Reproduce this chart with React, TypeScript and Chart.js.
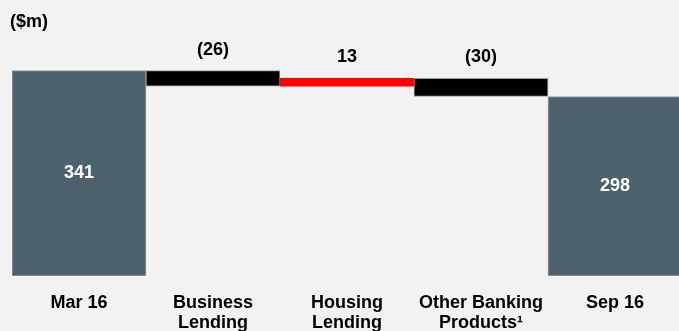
import React, { useEffect, useRef } from "react";
import { Chart, registerables } from "chart.js";

Chart.register(...registerables);

const categories: (string | string[])[] = [
  "Mar 16",
  ["Business", "Lending"],
  ["Housing", "Lending"],
  ["Other Banking", "Products\u00B9"],
  "Sep 16",
];
const startValue = 341;
const changes = [-26, 13, -30];
const endValue = 298;
const valueLabels = ["341", "(26)", "13", "(30)", "298"];
const unitLabel = "($m)";

const FONT = "'Liberation Sans', Arial, sans-serif";

function buildRanges(): [number, number][] {
  const ranges: [number, number][] = [[0, startValue]];
  let level = startValue;
  for (const c of changes) {
    const next = level + c;
    ranges.push([Math.min(level, next), Math.max(level, next)]);
    level = next;
  }
  ranges.push([0, endValue]);
  return ranges;
}

const labelPlugin = {
  id: "waterfallLabels",
  afterDatasetsDraw(chart: any) {
    const ctx = chart.ctx;
    const meta = chart.getDatasetMeta(0);
    const yScale = chart.scales.y;
    const ranges = buildRanges();
    ctx.save();
    ctx.font = `bold 18px ${FONT}`;
    ctx.textAlign = "center";
    ctx.textBaseline = "middle";
    meta.data.forEach((bar: any, i: number) => {
      const [lo, hi] = ranges[i];
      if (i === 0 || i === ranges.length - 1) {
        ctx.fillStyle = "#ffffff";
        ctx.fillText(valueLabels[i], bar.x, (yScale.getPixelForValue(lo) + yScale.getPixelForValue(hi)) / 2);
      } else {
        ctx.fillStyle = "#000000";
        ctx.fillText(valueLabels[i], bar.x, yScale.getPixelForValue(hi) - 21);
      }
    });
    ctx.textAlign = "left";
    ctx.fillStyle = "#000000";
    ctx.fillText(unitLabel, 10, 22);
    ctx.restore();
  },
};

export default function App() {
  const ref = useRef<HTMLCanvasElement>(null);
  useEffect(() => {
    document.documentElement.style.overflow = "hidden";
    document.body.style.margin = "0";
    document.body.style.overflow = "hidden";
    document.body.style.background = "#f2f2f2";
    const slate = "#4d626c";
    const chart = new Chart(ref.current!, {
      type: "bar",
      data: {
        labels: categories,
        datasets: [
          {
            data: buildRanges() as any,
            backgroundColor: [slate, "#000000", "#ff0000", "#000000", slate],
            borderColor: ["#9a9a9a", "#9a9a9a", "#ff0000", "#9a9a9a", "#9a9a9a"],
            borderWidth: [1, 1, 0, 1, 1],
            borderSkipped: false,
            barPercentage: 1,
            categoryPercentage: 1,
          },
        ],
      },
      options: {
        animation: false,
        responsive: false,
        maintainAspectRatio: false,
        layout: { padding: { left: 12, right: 18, top: 35, bottom: 0 } },
        plugins: { legend: { display: false }, tooltip: { enabled: false } },
        scales: {
          x: {
            grid: { display: false, drawTicks: false },
            border: { display: false },
            afterFit: (scale: any) => {
              scale.height = 57;
            },
            ticks: {
              color: "#000000",
              padding: 17,
              maxRotation: 0,
              autoSkip: false,
              font: { family: FONT, size: 18, weight: "bold", lineHeight: 20 / 18 },
            },
          },
          y: { display: false, min: 0, max: 400 },
        },
      },
      plugins: [labelPlugin],
    });
    return () => chart.destroy();
  }, []);
  return (
    <div style={{ position: "absolute", left: 0, top: 0, width: 700, height: 333 }}>
      <canvas ref={ref} width={700} height={333} style={{ width: 700, height: 333 }} />
    </div>
  );
}
